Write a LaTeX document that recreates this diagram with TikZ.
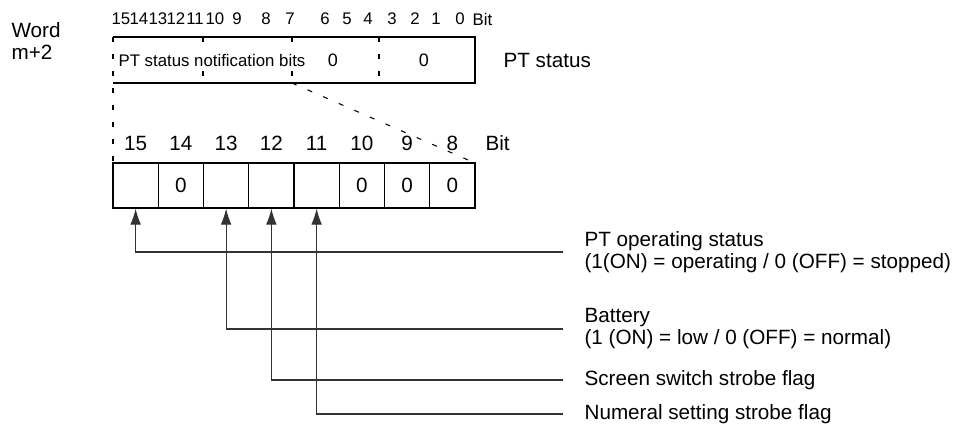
\documentclass[tikz,border=0pt]{standalone}
\usepackage{fontspec}
\setmainfont{Liberation Sans}
\usetikzlibrary{arrows.meta}

\tikzset{
  bitcell/.style={draw, line width=0.9pt, minimum width=33.9pt, minimum height=33.75pt, inner sep=0pt, font=\fontsize{15.5}{18}\selectfont},
  bigtext/.style={font=\fontsize{15.5}{16.5}\selectfont, inner sep=1pt},
  smalltext/.style={font=\fontsize{12.6}{14}\selectfont, inner sep=1pt},
  dashline/.style={line width=0.8pt, dash pattern=on 3.75pt off 9pt},
  flagline/.style={line width=0.8pt, draw=black!80},
  flagtip/.style={-{Latex[length=12pt,width=8pt]}},
}

\begin{document}
\begin{tikzpicture}[x=0.75pt, y=-0.75pt]
    \useasboundingbox (0,0) rectangle (961,430);

    % Word label
    \node[bigtext, anchor=west, align=left] (word) at (10,41) {Word\\m+2};

    % Bit numbers of the whole word
    \foreach \b/\x in {15/121,14/139,13/158,12/176,11/195,10/215,9/237,8/266,7/290,6/325,5/347,4/368,3/392,2/415,1/436,0/460}
        \node[smalltext] (t\b) at (\x,19) {\b};
    \node[smalltext, anchor=west] (tbit) at (471,19) {Bit};

    % Word m+2 box
    \draw[line width=0.9pt] (113,37) -- (475,37) -- (475,83) -- (113,83);
    \draw[dashline] (113,37) -- (113,163);
    \foreach \x in {203,292,379}
        \draw[dashline] (\x,37) -- (\x,83);
    \node[smalltext, fill=white, anchor=west] (notif) at (117,60) {PT status notification bits};
    \node[font=\fontsize{13.5}{15}\selectfont] (zlo) at (333,60) {0};
    \node[font=\fontsize{13.5}{15}\selectfont] (zhi) at (424,60) {0};
    \node[bigtext, anchor=west] (ptstat) at (502,60) {PT status};

    % Expansion of bits 15 to 8
    \draw[dashline] (292,83) -- (475,163);
    \foreach \b/\v [count=\i from 0] in {15/{},14/0,13/{},12/{},11/{},10/0,9/0,8/0} {
        \node[bitcell] (c\b) at ({113+45.25*(\i+0.5)},185.5) {\v};
        \node[bigtext] (b\b) at ({113+45.25*(\i+0.5)},143) {\b};
    }
    \node[bigtext, anchor=west] (bbit) at (484,143) {Bit};

    % Flag descriptions
    \node[bigtext, anchor=west, align=left] (opstat) at (583,252) {PT operating status\\(1(ON) = operating / 0 (OFF) = stopped)};
    \node[bigtext, anchor=west, align=left] (batt) at (583,329) {Battery\\(1 (ON) = low / 0 (OFF) = normal)};
    \node[bigtext, anchor=west] (scrn) at (583,380) {Screen switch strobe flag};
    \node[bigtext, anchor=west] (nums) at (583,414) {Numeral setting strobe flag};

    % Connectors
    \draw[flagline, flagtip] ([xshift=-15pt]opstat.west) -| (c15.south);
    \draw[flagline, flagtip] ([xshift=-15pt]batt.west) -| (c13.south);
    \draw[flagline, flagtip] ([xshift=-15pt]scrn.west) -| (c12.south);
    \draw[flagline, flagtip] ([xshift=-15pt]nums.west) -| (c11.south);
\end{tikzpicture}
\end{document}
